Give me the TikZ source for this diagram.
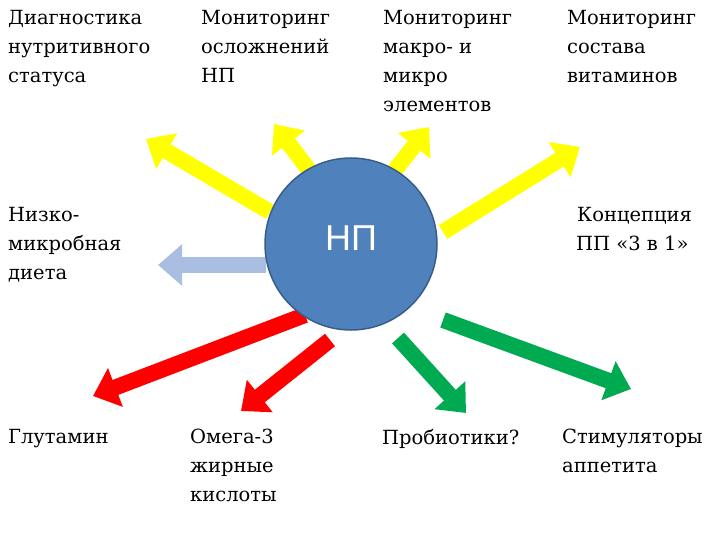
\documentclass[tikz,border=0pt]{standalone}
\usepackage{fontspec}
\setmainfont{DejaVu Serif}
\usetikzlibrary{arrows.meta}
\begin{document}
\begin{tikzpicture}[x=1pt,y=-1pt,
 lbl/.style={anchor=north west,align=left,inner sep=0pt,font=\fontsize{19.5}{29}\selectfont},
 blk/.style={line width=16pt,-{Triangle[length=24pt,width=40pt]}},
 ylw/.style={blk,draw={rgb,255:red,255;green,255;blue,0}},
 rd/.style={blk,draw={rgb,255:red,255;green,0;blue,0}},
 gr/.style={blk,draw={rgb,255:red,0;green,170;blue,80}},
 lb/.style={blk,draw={rgb,255:red,170;green,190;blue,225}}]
\useasboundingbox (0,0) rectangle (720,540);
\coordinate (t1) at (270,212); \coordinate (h1) at (146,139);
\coordinate (t2) at (318,182); \coordinate (h2) at (274,124);
\coordinate (t3) at (384,184); \coordinate (h3) at (429,127);
\coordinate (t4) at (443,232); \coordinate (h4) at (580,147);
\coordinate (t5) at (266,265); \coordinate (h5) at (158,265);
\coordinate (t6) at (305,315); \coordinate (h6) at (93,396);
\coordinate (t7) at (330,340); \coordinate (h7) at (241,411);
\coordinate (t8) at (398,338); \coordinate (h8) at (466,413);
\coordinate (t9) at (443,320); \coordinate (h9) at (631,389);
\draw[ylw] (t1) -- (h1);
\draw[ylw] (t2) -- (h2);
\draw[ylw] (t3) -- (h3);
\draw[ylw] (t4) -- (h4);
\draw[lb] (t5) -- (h5);
\draw[rd] (t6) -- (h6);
\draw[rd] (t7) -- (h7);
\draw[gr] (t8) -- (h8);
\draw[gr] (t9) -- (h9);
\node[circle,minimum size=172pt,fill={rgb,255:red,79;green,129;blue,189},draw={rgb,255:red,56;green,93;blue,138},line width=1.5pt] (np) at (351,244) {};
\node[text=white,font=\fontsize{36}{36}\selectfont\fontspec{Liberation Sans}] (npl) at (351,238) {НП};
\node[lbl] (a) at (8,10) {Диагностика\\нутритивного\\статуса};
\node[lbl] (b) at (201,10) {Мониторинг\\осложнений\\НП};
\node[lbl] (c) at (383,10) {Мониторинг\\макро- и\\микро\\элементов};
\node[lbl] (d) at (567,10) {Мониторинг\\состава\\витаминов};
\node[lbl] (e) at (8,207) {Низко-\\микробная\\диета};
\node[lbl] (f) at (576,207) {\hspace*{1pt}Концепция\\ПП «3 в 1»};
\node[lbl] (g) at (8,429) {Глутамин};
\node[lbl] (h) at (190,429) {Омега-3\\жирные\\кислоты};
\node[lbl] (i) at (382,429) {Пробиотики?};
\node[lbl] (j) at (562,429) {Стимуляторы\\аппетита};
\end{tikzpicture}
\end{document}
